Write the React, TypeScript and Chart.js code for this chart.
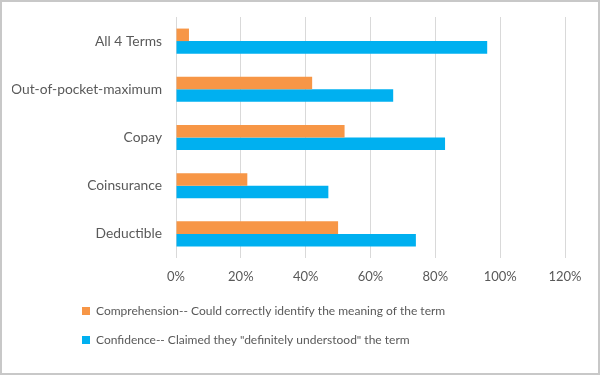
import React, { useEffect, useRef } from "react";
import { Chart, registerables } from "chart.js";

Chart.register(...registerables);

const categories = ["All 4 Terms", "Out-of-pocket-maximum", "Copay", "Coinsurance", "Deductible"];
const comprehension = [4, 42, 52, 22, 50];
const confidence = [96, 67, 83, 47, 74];
const seriesLabels = [
  "Comprehension-- Could correctly identify the meaning of the term",
  'Confidence-- Claimed they "definitely understood" the term',
];
const xMax = 120;
const xStep = 20;

const FONT = "Lato";
const TEXT = "#595959";

const legendShift = {
  id: "legendShift",
  afterLayout(chart: any) {
    const l = chart.legend;
    if (l) {
      const w = l.right - l.left;
      l.left = 63;
      l.right = 63 + w;
    }
  },
};

export default function App() {
  const ref = useRef<HTMLCanvasElement | null>(null);
  useEffect(() => {
    if (!ref.current) return;
    const chart = new Chart(ref.current, {
      type: "bar",
      data: {
        labels: categories,
        datasets: [
          {
            label: seriesLabels[0],
            data: comprehension,
            backgroundColor: "#F79646",
            barPercentage: 1,
            categoryPercentage: 0.52,
          },
          {
            label: seriesLabels[1],
            data: confidence,
            backgroundColor: "#00B0F0",
            barPercentage: 1,
            categoryPercentage: 0.52,
          },
        ],
      },
      options: {
        indexAxis: "y",
        animation: false,
        responsive: false,
        maintainAspectRatio: false,
        layout: { padding: { top: 15, left: 10, right: 33, bottom: 17 } },
        scales: {
          x: {
            min: 0,
            max: xMax,
            ticks: {
              stepSize: xStep,
              padding: 11,
              color: TEXT,
              font: { family: FONT, size: 13 },
              callback: (v: any) => v + "%",
            },
            grid: { color: "#d9d9d9", drawTicks: false },
            border: { display: false },
            afterFit: (scale: any) => {
              scale.height = 30;
            },
          },
          y: {
            ticks: {
              padding: 14,
              color: TEXT,
              font: { family: FONT, size: 13.8 },
            },
            grid: { display: false, drawTicks: false },
            border: { display: false },
            afterFit: (scale: any) => {
              scale.width = 164;
              scale.paddingTop = 0;
              scale.paddingBottom = 0;
            },
          },
        },
        plugins: {
          legend: {
            position: "bottom",
            align: "start",
            labels: {
              boxWidth: 8,
              boxHeight: 8,
              padding: 17,
              color: TEXT,
              font: { family: FONT, size: 12 },
            },
          },
          tooltip: { enabled: false },
        },
      },
      plugins: [legendShift],
    });
    return () => chart.destroy();
  }, []);
  return (
    <div
      style={{
        position: "fixed",
        left: 0,
        top: 0,
        width: 600,
        height: 375,
        boxSizing: "border-box",
        border: "2px solid #c8c8c8",
        background: "#fff",
      }}
    >
      <canvas ref={ref} width={596} height={371} style={{ display: "block" }} />
    </div>
  );
}
